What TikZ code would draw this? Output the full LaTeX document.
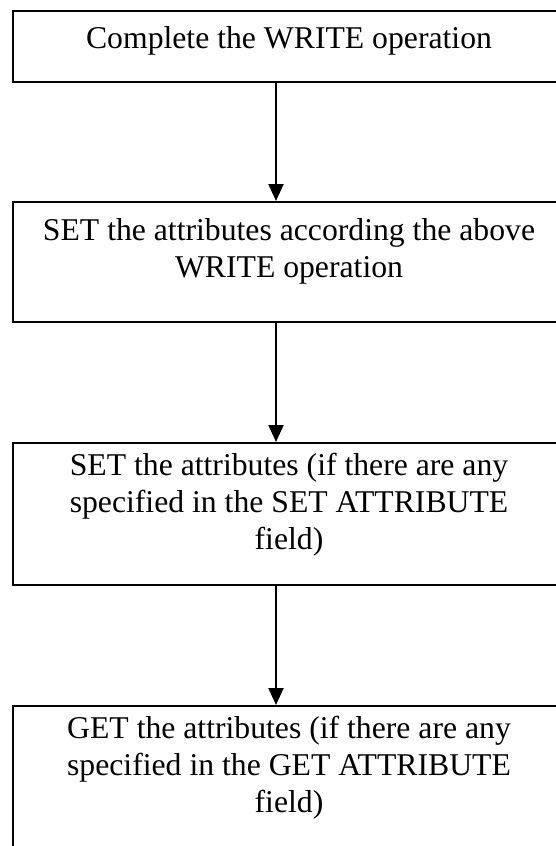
\documentclass[tikz,border=0pt]{standalone}
\usepackage{fontspec}
\setmainfont{Liberation Serif}
\usetikzlibrary{arrows.meta}
\begin{document}
\begin{tikzpicture}[x=0.5pt,y=-0.5pt,
  stepbox/.style={draw, line width=1.1pt, minimum width=277pt, inner sep=0pt, anchor=north west},
  boxtext/.style={font=\fontsize{15.85}{18.5}\selectfont, align=center, anchor=base, inner sep=0pt},
  flow/.style={line width=1pt, -{Triangle[width=7.5pt,length=8.5pt]}}]
\clip (0,0) rectangle (556,846);
% process boxes (the page cuts off their right side and the last bottom edge)
\node[stepbox, minimum height=35.5pt] (b1) at (12,10) {};
\node[stepbox, minimum height=60pt]   (b2) at (12,201) {};
\node[stepbox, minimum height=71pt]   (b3) at (12,442) {};
\node[stepbox, minimum height=72pt]   (b4) at (12,705) {};
% box texts, placed by the baseline of their last line
\node[boxtext] (t1) at (289,48) {Complete the WRITE operation};
\node[boxtext] (t2) at (289,277) {SET the attributes according the above\\WRITE operation};
\node[boxtext] (t3) at (289,549) {SET the attributes (if there are any\\specified in the SET ATTRIBUTE\\field)};
\node[boxtext] (t4) at (289,812) {GET the attributes (if there are any\\specified in the GET ATTRIBUTE\\field)};
% connectors
\coordinate (ax) at (276,0);
\draw[flow] (b1.south -| ax) -- (b2.north -| ax);
\draw[flow] (b2.south -| ax) -- (b3.north -| ax);
\draw[flow] (b3.south -| ax) -- (b4.north -| ax);
\end{tikzpicture}
\end{document}
